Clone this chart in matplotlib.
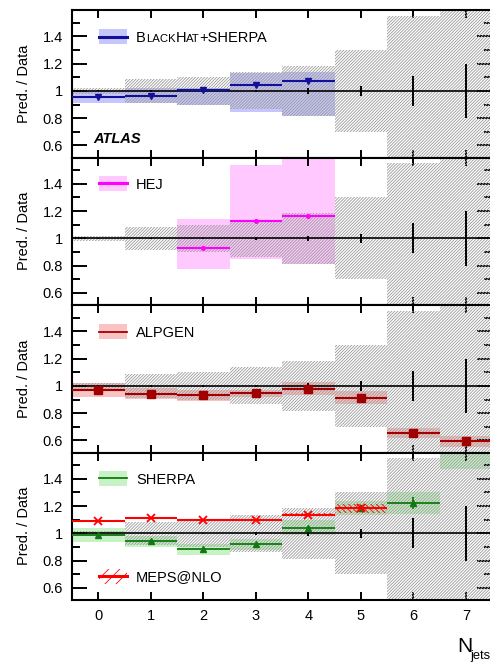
import numpy as np
import matplotlib.pyplot as plt
from matplotlib.patches import Rectangle
from matplotlib.lines import Line2D
from matplotlib.ticker import MultipleLocator, FuncFormatter

plt.rcParams['font.family'] = ['Liberation Sans', 'DejaVu Sans']
plt.rcParams['hatch.linewidth'] = 0.6

# jet multiplicity bins
njets = np.arange(8)
edges = np.arange(-0.5, 8.0, 1.0)

# data uncertainties around ratio = 1
data_stat = [0.004, 0.005, 0.006, 0.01, 0.02, 0.035, 0.11, 0.2]
data_syst = [0.02, 0.085, 0.10, 0.135, 0.185, 0.30, 0.55, 0.9]

# BlackHat+Sherpa (0-4 jets)
bh_val = [0.953, 0.966, 1.005, 1.042, 1.07]
bh_lo = [0.91, 0.91, 0.90, 0.844, 0.817]
bh_hi = [1.01, 1.02, 1.02, 1.13, 1.14]

# HEJ (2-4 jets)
hej_x = [2, 3, 4]
hej_val = [0.932, 1.127, 1.163]
hej_lo = [0.778, 0.846, 0.81]
hej_hi = [1.139, 1.54, 1.70]

# Alpgen
alp_val = [0.971, 0.944, 0.932, 0.946, 0.978, 0.915, 0.652, 0.597]
alp_lo = [0.92, 0.905, 0.89, 0.92, 0.93, 0.87, 0.615, 0.555]
alp_hi = [1.02, 0.985, 0.97, 0.97, 1.028, 0.96, 0.695, 0.63]

# Sherpa
sh_val = [0.988, 0.944, 0.885, 0.924, 1.042, 1.188, 1.225, 1.75]
sh_lo = [0.94, 0.90, 0.84, 0.875, 0.99, 1.134, 1.144, 1.47]
sh_hi = [1.037, 0.98, 0.925, 0.96, 1.097, 1.24, 1.30, 2.0]
sh_stat = [0.005, 0.005, 0.006, 0.008, 0.01, 0.02, 0.045, 0.1]

# MEPS@NLO (0-5 jets)
me_x = [0, 1, 2, 3, 4, 5]
me_val = [1.09, 1.11, 1.10, 1.098, 1.137, 1.183]
me_err = [0.005, 0.005, 0.005, 0.008, 0.012, 0.03]

fig = plt.figure(figsize=(4.9, 6.64), dpi=100)
W, H = 490.0, 664.0
left = 72 / W
width = 420.3 / W
ph = 147.5 / H
bottom0 = (H - 600) / H
axes = [fig.add_axes([left, bottom0 + (3 - i) * ph, width, ph]) for i in range(4)]


def base(ax, last=False):
    ax.set_xlim(-0.5, 7.5)
    ax.set_ylim(0.512, 1.593)
    ax.stairs(np.array(data_syst) + 1, edges, baseline=1 - np.array(data_syst),
              fill=True, facecolor='none', edgecolor='#9a9a9a', hatch='/' * 11,
              lw=0, zorder=2)
    ax.axhline(1, color='black', lw=1.2, zorder=4)
    ax.errorbar(njets, np.ones(8), yerr=data_stat, fmt='none', ecolor='black',
                elinewidth=1.4, zorder=4)
    for s in ax.spines.values():
        s.set_linewidth(1.5)
    ax.xaxis.set_major_locator(MultipleLocator(1))
    ax.yaxis.set_major_locator(MultipleLocator(0.2))
    ax.yaxis.set_minor_locator(MultipleLocator(0.1))
    ax.yaxis.set_major_formatter(FuncFormatter(lambda v, p: f'{v:g}'))
    ax.tick_params(axis='x', which='major', direction='in', top=True, bottom=True,
                   length=6, width=1.4, labelsize=10.5, pad=6.5,
                   labelbottom=last)
    ax.tick_params(axis='y', which='major', direction='in', left=True, right=True,
                   length=11, width=1.4, labelsize=10.5, pad=6.5)
    ax.tick_params(axis='y', which='minor', direction='in', left=True, right=True,
                   length=5.8, width=1.4)
    ax.set_ylabel('Pred. / Data', fontsize=10.5, labelpad=8)


def entry(ax, y, label, color, band, lw=2.0, hatch=None):
    if hatch:
        ax.add_patch(Rectangle((0.064, y - 0.05), 0.067, 0.10, transform=ax.transAxes,
                               facecolor='none', edgecolor=color, hatch=hatch, lw=0,
                               zorder=6))
    else:
        ax.add_patch(Rectangle((0.064, y - 0.05), 0.067, 0.10, transform=ax.transAxes,
                               facecolor=band, lw=0, zorder=6))
    ax.add_line(Line2D([0.064, 0.131], [y, y], transform=ax.transAxes, color=color,
                       lw=lw, zorder=7))
    return ax.text(0.152, y - 0.035, label, transform=ax.transAxes, va='baseline',
                   fontsize=10.5, zorder=7)


for i, ax in enumerate(axes):
    base(ax, last=(i == 3))

# panel 1: BlackHat+Sherpa
ax = axes[0]
bhe = edges[:len(bh_val) + 1]
ax.stairs(bh_hi, bhe, baseline=bh_lo, fill=True, color='#c6c6fa', lw=0, zorder=1)
ax.errorbar(njets[:len(bh_val)], bh_val, xerr=0.5, fmt='v', color='#10109a',
            ms=5, elinewidth=1.5, zorder=5)
t = entry(ax, 0.818, 'B', '#10109a', '#c6c6fa', lw=2.2)
ybase = 0.818 - 0.035
for piece, fs in [('LACK', 8.2), ('H', 10.5), ('AT', 8.2), ('+SHERPA', 10.5)]:
    t = ax.annotate(piece, xy=(1, ybase), xycoords=(t, ax.transAxes),
                    va='baseline', fontsize=fs)
ax.text(0.05, 0.10, 'ATLAS', transform=ax.transAxes, fontsize=10.5,
        fontweight='bold', fontstyle='italic')

# panel 2: HEJ
ax = axes[1]
ax.stairs(hej_hi, edges[2:6], baseline=hej_lo, fill=True, color='#ffc8ff', lw=0,
          zorder=1)
ax.errorbar(hej_x, hej_val, xerr=0.5, yerr=0.012, fmt='o', color='#ff00ff', ms=2.5,
            elinewidth=1.5, zorder=5)
entry(ax, 0.824, 'HEJ', '#ff00ff', '#ffc8ff', lw=2.2)

# panel 3: Alpgen
ax = axes[2]
ax.stairs(alp_hi, edges, baseline=alp_lo, fill=True, color='#fac3c3', lw=0, zorder=1)
ax.errorbar(njets, alp_val, xerr=0.5, fmt='s', color='#a00000', ms=5.5,
            elinewidth=1.5, zorder=5)
entry(ax, 0.818, 'ALPGEN', '#a00000', '#fac3c3', lw=1.3)

# panel 4: Sherpa and MEPS@NLO
ax = axes[3]
ax.stairs(sh_hi, edges, baseline=sh_lo, fill=True, color='#c6f2c6', lw=0, zorder=1)
ax.errorbar(njets, sh_val, xerr=0.5, yerr=sh_stat, fmt='^', color='#127812', ms=4.5,
            elinewidth=1.3, zorder=5)
me_v = np.array(me_val)
me_e = np.array(me_err)
ax.stairs(me_v + me_e, edges[:7], baseline=me_v - me_e, fill=True, facecolor='none',
          edgecolor='#ff0000', hatch='\\' * 6, lw=0, zorder=5)
ax.errorbar(me_x, me_val, xerr=0.5, fmt='x', color='#ff0000', ms=6, mew=1.3,
            elinewidth=1.5, zorder=6)
entry(ax, 0.824, 'SHERPA', '#127812', '#c6f2c6', lw=1.3)
entry(ax, 0.161, 'MEPS@NLO', '#ff0000', None, lw=2.2, hatch='///')

fig.text(457 / W, (H - 651.7) / H, 'N', fontsize=15, ha='left', va='baseline')
fig.text(470 / W, (H - 659.5) / H, 'jets', fontsize=9.3, ha='left', va='baseline')

fig.savefig('out.png', dpi=100)
